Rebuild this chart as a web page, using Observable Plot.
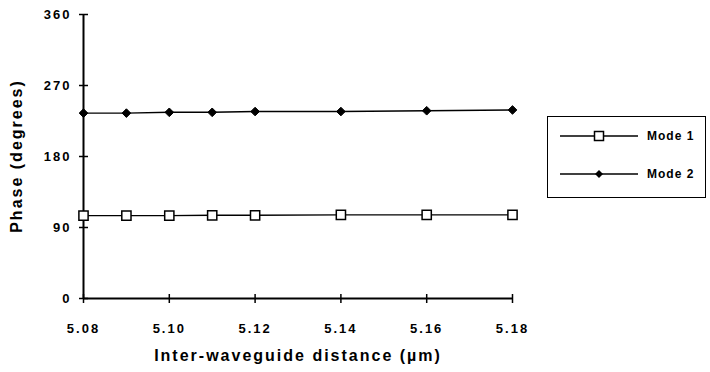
<!DOCTYPE html>
<html>
<head>
<meta charset="utf-8">
<script src="https://cdn.jsdelivr.net/npm/d3@7"></script>
<script src="https://cdn.jsdelivr.net/npm/@observablehq/plot@0.6"></script>
<style>
  html, body { margin: 0; padding: 0; background: #fff; }
  #wrap { position: relative; width: 710px; height: 372px; overflow: hidden; }
  #wrap svg { font-family: "Liberation Sans", Arial, sans-serif; }
  #wrap svg text { letter-spacing: 2px; }
  #legend {
    position: absolute; left: 547px; top: 116px; width: 157px; height: 80px;
    border: 1.5px solid #000; background: #fff;
    font-family: "Liberation Sans", Arial, sans-serif; font-size: 12px; font-weight: bold; letter-spacing: 1px;
  }
  .row { position: absolute; left: 12px; height: 16px; display: flex; align-items: center; }
  .row svg { display: block; }
  .row span { margin-left: 9px; }
</style>
</head>
<body>
<div id="wrap"></div>
<script>
// Inter-waveguide distance (µm)
const distance = [5.08, 5.09, 5.10, 5.11, 5.12, 5.14, 5.16, 5.18];
// Phase of each mode (degrees)
const mode1 = [105, 105, 105, 105.5, 105.5, 106, 106, 106];
const mode2 = [235, 235, 236, 236, 237, 237, 238, 239];
const xTicks = [5.08, 5.10, 5.12, 5.14, 5.16, 5.18];
const yTicks = [0, 90, 180, 270, 360];
const seriesNames = ["Mode 1", "Mode 2"];
const xTitle = "Inter-waveguide distance (\u00b5m)";
const yTitle = "Phase (degrees)";

const rows1 = distance.map((d, i) => ({x: d, y: mode1[i]}));
const rows2 = distance.map((d, i) => ({x: d, y: mode2[i]}));

// short line segments used as tick marks crossing the axes
const hTick = {draw(ctx, size) { const r = Math.sqrt(size / Math.PI); ctx.moveTo(-r, 0); ctx.lineTo(r, 0); }};
const vTick = {draw(ctx, size) { const r = Math.sqrt(size / Math.PI); ctx.moveTo(0, -r); ctx.lineTo(0, r); }};

const label = {fill: "#000", fontSize: 13, fontWeight: "bold"};
const title = {fill: "#000", fontSize: 16, fontWeight: "bold"};

const chart = Plot.plot({
  width: 710,
  height: 372,
  marginLeft: 83,
  marginRight: 198,
  marginTop: 14,
  marginBottom: 74,
  x: {domain: [5.08, 5.18], axis: null},
  y: {domain: [0, 360], axis: null},
  marks: [
    Plot.ruleX([5.08], {stroke: "#000", strokeWidth: 2}),
    Plot.ruleY([0], {stroke: "#000", strokeWidth: 2}),
    Plot.dot(yTicks, {x: () => 5.08, y: d => d, symbol: hTick, r: 4.5, stroke: "#000", strokeWidth: 1.5}),
    Plot.dot(xTicks, {x: d => d, y: () => 0, symbol: vTick, r: 4.5, stroke: "#000", strokeWidth: 1.5}),
    Plot.text(yTicks, {x: () => 5.08, y: d => d, text: d => String(d), textAnchor: "end", dx: -12, ...label}),
    Plot.text(xTicks, {x: d => d, y: () => 0, text: d => d.toFixed(2), dy: 30, ...label}),
    Plot.text([xTitle], {frameAnchor: "bottom", dy: 62, ...title}),
    Plot.line(rows1, {x: "x", y: "y", stroke: "#000", strokeWidth: 1.4}),
    Plot.line(rows2, {x: "x", y: "y", stroke: "#000", strokeWidth: 1.4}),
    Plot.dot(rows1, {x: "x", y: "y", symbol: "square", r: 5.2, fill: "#fff", stroke: "#000", strokeWidth: 1.5}),
    Plot.dot(rows2, {x: "x", y: "y", symbol: "diamond2", r: 3.9, fill: "#000", stroke: "#000", strokeWidth: 1})
  ]
});

// rotated y-axis title, centred on the plot frame
const yMid = (chart.scale("y").range[0] + chart.scale("y").range[1]) / 2;
d3.select(chart).append("text")
  .attr("transform", `translate(16,${yMid}) rotate(-90)`)
  .attr("text-anchor", "middle")
  .attr("dy", "0.35em")
  .attr("font-size", 16)
  .attr("font-weight", "bold")
  .attr("fill", "#000")
  .text(yTitle);

document.getElementById("wrap").appendChild(chart);

// legend box to the right of the plot
const legend = document.createElement("div");
legend.id = "legend";
const samples = [
  `<svg width="78" height="16"><line x1="0" y1="8" x2="78" y2="8" stroke="#000" stroke-width="1.4"/><rect x="34.5" y="3.5" width="9" height="9" fill="#fff" stroke="#000" stroke-width="1.5"/></svg>`,
  `<svg width="78" height="16"><line x1="0" y1="8" x2="78" y2="8" stroke="#000" stroke-width="1.4"/><path d="M39 4L43 8L39 12L35 8Z" fill="#000"/></svg>`
];
seriesNames.forEach((name, i) => {
  const row = document.createElement("div");
  row.className = "row";
  row.style.top = (i === 0 ? 11 : 49) + "px";
  row.innerHTML = samples[i] + `<span>${name}</span>`;
  legend.appendChild(row);
});
document.getElementById("wrap").appendChild(legend);
</script>
</body>
</html>
